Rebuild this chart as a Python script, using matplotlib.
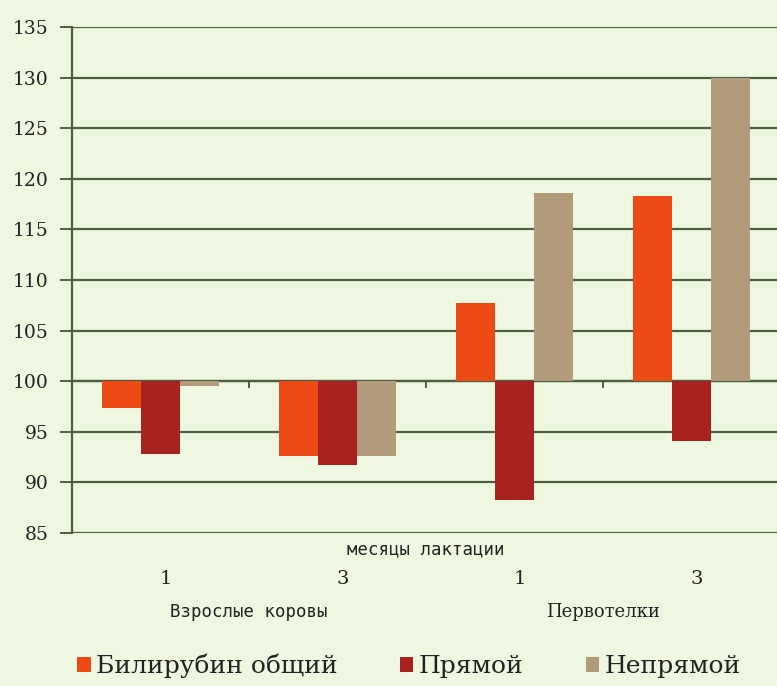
import matplotlib
matplotlib.use('Agg')
import matplotlib.pyplot as plt
from matplotlib.patches import Patch
import numpy as np

# данные (в % к норме, база = 100)
months = ['1', '3', '1', '3']
groups = ['Взрослые коровы', 'Первотелки']
series = ['Билирубин общий', 'Прямой', 'Непрямой']
bil_total = [97.4, 92.6, 107.7, 118.3]
bil_direct = [92.8, 91.7, 88.3, 94.1]
bil_indirect = [99.5, 92.6, 118.6, 130.0]

colors = ['#ee4a16', '#a82320', '#b19b7b']
bg = '#eef8e0'
grid_c = '#4d5e45'
txt_c = '#222222'
base = 100

fig = plt.figure(figsize=(7.77, 6.86), dpi=100, facecolor=bg)
ax = fig.add_axes([72/777, 1 - 533/686, 708/777, (533 - 27)/686])
ax.set_facecolor(bg)

x = np.arange(len(months))
width = 0.22
for i, (vals, c) in enumerate(zip([bil_total, bil_direct, bil_indirect], colors)):
    vals = np.array(vals)
    ax.bar(x + (i - 1) * width, vals - base, width, bottom=base, color=c,
           edgecolor='none', zorder=3)

ax.set_xlim(-0.5, len(months) - 0.5)
ax.set_ylim(85, 135)
ax.set_yticks(np.arange(85, 136, 5))
ax.yaxis.grid(True, color=grid_c, linewidth=1.6, zorder=1)
ax.tick_params(axis='y', length=9, width=1.4, color=grid_c, labelsize=13.5,
               labelcolor=txt_c, pad=8)
for lab in ax.get_yticklabels():
    lab.set_family('DejaVu Serif')

for s in ['top', 'right', 'bottom']:
    ax.spines[s].set_visible(False)
ax.spines['left'].set_color(grid_c)
ax.spines['left'].set_linewidth(1.6)

# ось категорий на уровне 100
ax.axhline(base, color=grid_c, linewidth=1.6, zorder=2)
ax.set_xticks([])
for b in np.arange(0.5, len(months) - 0.5, 1):
    ax.plot([b, b], [base, base - 0.6], color=grid_c, linewidth=1.4, zorder=2)

tr = ax.get_xaxis_transform()
ax.text(1.5, -0.032, 'месяцы лактации', transform=tr, ha='center', va='center',
        fontsize=12.5, family='DejaVu Sans Mono', color=txt_c)
for xi, m in zip(x, months):
    ax.text(xi + 0.03, -0.09, m, transform=tr, ha='center', va='center',
            fontsize=14, family='DejaVu Serif', color=txt_c)
ax.text(0.5, -0.156, groups[0], transform=tr, ha='center', va='center',
        fontsize=12.5, family='DejaVu Sans Mono', color=txt_c)
ax.text(2.5, -0.156, groups[1], transform=tr, ha='center', va='center',
        fontsize=13, family='DejaVu Serif', color=txt_c)

handles = [Patch(facecolor=c, edgecolor='none') for c in colors]
fig.legend(handles, series, loc='center', bbox_to_anchor=(0.526, 1 - 666/686),
           ncol=3, frameon=False, prop={'family': 'DejaVu Serif', 'size': 18},
           handlelength=0.55, handleheight=0.6, handletextpad=0.2,
           columnspacing=2.5, labelcolor=txt_c)

fig.savefig('out.png', dpi=100, facecolor=bg)
